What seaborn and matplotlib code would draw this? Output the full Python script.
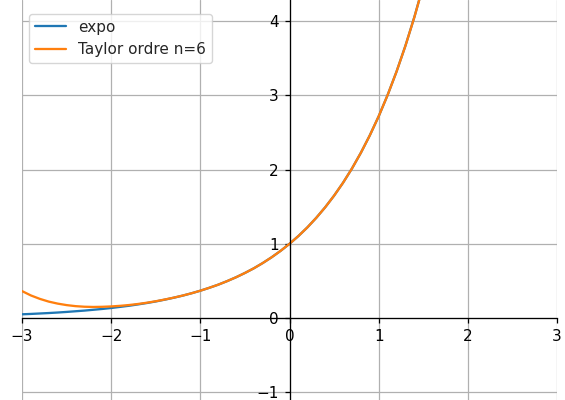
import pandas as pd
import matplotlib.pyplot as plt
import seaborn as sns

# valeurs (x de -3 a 1.6, pas de 0.1)
x_vals = [-3.0, -2.9, -2.8, -2.7, -2.6, -2.5, -2.4, -2.3, -2.2, -2.1,
          -2.0, -1.9, -1.8, -1.7, -1.6, -1.5, -1.4, -1.3, -1.2, -1.1,
          -1.0, -0.9, -0.8, -0.7, -0.6, -0.5, -0.4, -0.3, -0.2, -0.1,
          0.0, 0.1, 0.2, 0.3, 0.4, 0.5, 0.6, 0.7, 0.8, 0.9,
          1.0, 1.1, 1.2, 1.3, 1.4, 1.5, 1.6]
expo_vals = [0.050, 0.055, 0.061, 0.067, 0.074, 0.082, 0.091, 0.100, 0.111, 0.122,
             0.135, 0.150, 0.165, 0.183, 0.202, 0.223, 0.247, 0.273, 0.301, 0.333,
             0.368, 0.407, 0.449, 0.497, 0.549, 0.607, 0.670, 0.741, 0.819, 0.905,
             1.000, 1.105, 1.221, 1.350, 1.492, 1.649, 1.822, 2.014, 2.226, 2.460,
             2.718, 3.004, 3.320, 3.669, 4.055, 4.482, 4.953]
taylor_vals = [0.363, 0.304, 0.258, 0.221, 0.194, 0.174, 0.160, 0.152, 0.149, 0.151,
               0.156, 0.164, 0.175, 0.189, 0.206, 0.226, 0.249, 0.274, 0.302, 0.333,
               0.368, 0.407, 0.449, 0.497, 0.549, 0.607, 0.670, 0.741, 0.819, 0.905,
               1.000, 1.105, 1.221, 1.350, 1.492, 1.649, 1.822, 2.014, 2.226, 2.460,
               2.718, 3.004, 3.319, 3.668, 4.053, 4.478, 4.947]
x_ticks = [-3, -2, -1, 0, 1, 2, 3]
y_ticks = [-1, 0, 1, 2, 3, 4]

df_expo = pd.DataFrame({'x': x_vals, 'y': expo_vals})
df_taylor = pd.DataFrame({'x': x_vals, 'y': taylor_vals})

sns.set_style("ticks")
plt.rcParams['font.family'] = ['DejaVu Sans']

fig = plt.figure(figsize=(5.65, 4.0), dpi=100)
ax = fig.add_axes([22 / 565, 0, 535 / 565, 1])

sns.lineplot(data=df_expo, x='x', y='y', color='tab:blue', linewidth=1.65, label='expo', ax=ax)
sns.lineplot(data=df_taylor, x='x', y='y', color='tab:orange', linewidth=1.65,
             label='Taylor ordre n=6', ax=ax)

ax.set_xlim(-3, 3)
ax.set_ylim(-1.105, 4.286)
ax.set_xticks(x_ticks)
ax.set_yticks(y_ticks)
ax.set_xlabel('')
ax.set_ylabel('')
ax.tick_params(labelsize=11, length=3.9, width=0.9, color='black', labelcolor='black', pad=3.8)

# axes centres en 0
ax.spines['left'].set_position(('data', 0))
ax.spines['bottom'].set_position(('data', 0))
ax.spines['right'].set_visible(False)
ax.spines['top'].set_visible(False)
for s in ['left', 'bottom']:
    ax.spines[s].set_color('black')
    ax.spines[s].set_linewidth(0.9)

ax.grid(True, color='#b0b0b0', linewidth=0.9)
ax.set_axisbelow(True)

ax.legend(loc='upper left', bbox_to_anchor=(29 / 565, 1 - 13.5 / 400),
          bbox_transform=fig.transFigure, borderaxespad=0, fontsize=11,
          frameon=True, framealpha=0.8, edgecolor='#cccccc', fancybox=True)

fig.savefig('out.png', dpi=100)
plt.close()
